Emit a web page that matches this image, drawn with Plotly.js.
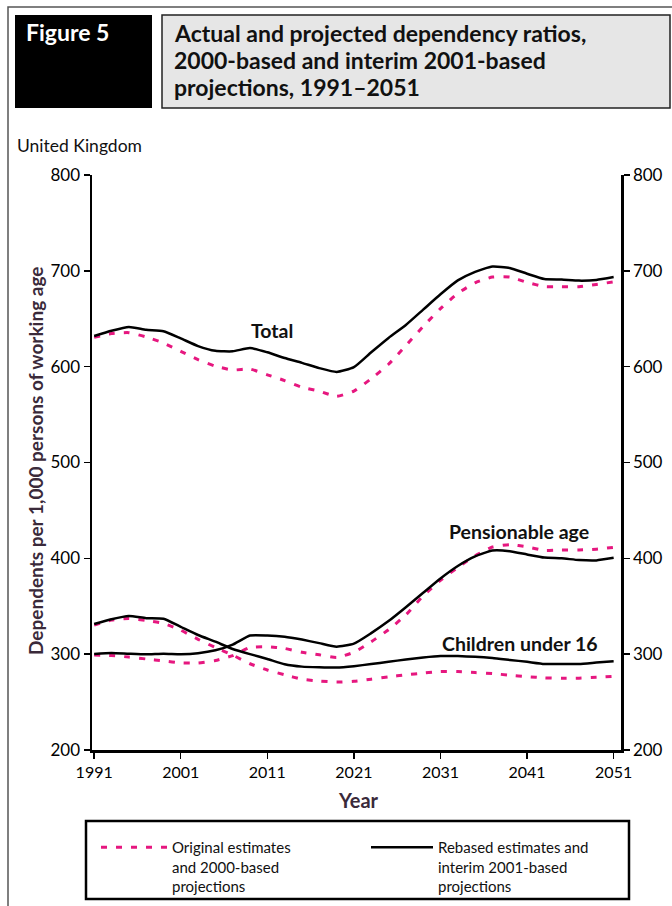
<!DOCTYPE html>
<html>
<head>
<meta charset="utf-8">
<script src="https://cdn.plot.ly/plotly-3.0.1.min.js"></script>
<style>
  html, body { margin: 0; padding: 0; background: #fff; }
  #chart { width: 672px; height: 906px; }
</style>
</head>
<body>
<div id="chart"></div>
<script>
// ---- Data ----
const years = [1991,1993,1995,1997,1999,2001,2003,2005,2007,2009,2011,2013,2015,2017,2019,2021,2023,2025,2027,2029,2031,2033,2035,2037,2039,2041,2043,2045,2047,2049,2051];

// Rebased estimates and interim 2001-based projections (solid black)
const rebasedTotal = [632,637.5,641.5,638.5,637, 629.5,621.5,616.5,616,619.5, 615,609,604,598.5,594.5, 599.5,615,630,643.5,659.5, 675.5,690,699,704.5,703, 697,691.5,691,689.8,690.5, 693.5];
const rebasedPension = [300.2,301.2,300.4,299.8,300.5, 300,301,304,310,319.5, 319.5,318.2,315.2,311.5,307.8, 311,322,334.5,349,364, 379,392,402,408.2,407.5, 404,400.8,400,398.2,397.8, 400.5];
const rebasedChildren = [331.5,336.4,339.8,337.6,337, 328.5,320,313,305.4,300, 295,289.5,287,286.3,286, 287.5,289.7,292,294.5,296.5, 298,298,297.3,296,294, 292,289.8,289.7,289.8,291.2, 292.5];

// Original estimates and 2000-based projections (dotted magenta)
const originalTotal = [630.6,634.5,635.5,631,624.7, 616,607.3,600.5,596.5,597.5, 591.5,585.5,578.5,574.5,569, 574.5,587.5,602.5,622,642, 660.5,676.5,687.5,693.5,693.5, 688,683.5,683.5,683.5,685.8, 688.5];
const originalPension = [299.1,298.5,297,295,293, 291,290.8,293.3,298.5,307, 307.8,306,302,299.3,296.5, 302,313,325.5,341,360.8, 377,390.5,402.6,411.8,414.3, 412,408.2,408.7,408.7,409.5, 411.5];
const originalChildren = [330.4,335.6,337.3,335.2,332, 325,315.5,307,299,290, 283.5,278.5,273.8,272,270.9, 271.7,273.9,276.3,278.5,280.3, 282,281.8,280.8,279.8,278, 276.5,275.3,274.8,275,275.8, 276.8];

const tickYears = [1991,2001,2011,2021,2031,2041,2051];
const tickYearLabels = ['1991','2001','2011','2021','2031','2041','2051'];
const yTicks = [200,300,400,500,600,700,800];

const seriesNames = {
  original: 'Original estimates<br>and 2000-based<br>projections',
  rebased: 'Rebased estimates and<br>interim 2001-based<br>projections'
};
const curveLabels = ['Total', 'Pensionable age', 'Children under 16'];

// ---- Styles ----
const FONT = 'Lato, "Open Sans", "DejaVu Sans", sans-serif';
const MAGENTA = '#e6177f';
const dotLine = { color: MAGENTA, width: 3, dash: '6px,9px', shape: 'spline', smoothing: 0.5 };
const solidLine = { color: '#000', width: 2.5, shape: 'spline', smoothing: 0.5 };

function tr(y, line, name, show, legendId) {
  return { x: years, y: y, type: 'scatter', mode: 'lines', line: line, name: name,
           legendgroup: name, showlegend: show, legend: legendId, hoverinfo: 'skip' };
}

const data = [
  tr(originalTotal, dotLine, seriesNames.original, true, 'legend'),
  tr(originalPension, dotLine, seriesNames.original, false, 'legend'),
  tr(originalChildren, dotLine, seriesNames.original, false, 'legend'),
  tr(rebasedTotal, solidLine, seriesNames.rebased, true, 'legend2'),
  tr(rebasedPension, solidLine, seriesNames.rebased, false, 'legend2'),
  tr(rebasedChildren, solidLine, seriesNames.rebased, false, 'legend2')
];
// invisible helper so the right-hand axis is drawn
data.push({ x: [years[0]], y: [yTicks[0]], yaxis: 'y2', type: 'scatter', mode: 'markers',
            marker: { opacity: 0 }, showlegend: false, hoverinfo: 'skip' });

// pixel -> paper helpers (plot area: x 92..621, y 175..750)
const L = 92, R = 51, T = 175, B = 156, W = 672, H = 906;
const PW = W - L - R, PH = H - T - B;
const px = v => (v - L) / PW;
const py = v => (H - B - v) / PH;

const TITLE_COL = '#3a2a3a';
const XTICKFONT = { size: 16, family: FONT, color: '#000' };
const YTICKFONT = { size: 17, family: FONT, color: '#000' };

function legendBox(xpx, iw) {
  return {
    orientation: 'v', xref: 'container', yref: 'container',
    x: xpx / W, y: (H - 831) / H, xanchor: 'left', yanchor: 'top',
    bordercolor: '#000', borderwidth: 0, bgcolor: 'rgba(0,0,0,0)',
    font: { size: 15, family: FONT, color: '#111' },
    itemwidth: iw, valign: 'top'
  };
}

const layout = {
  width: W, height: H,
  margin: { l: L, r: R, t: T, b: B, pad: 0, autoexpand: false },
  paper_bgcolor: '#fff', plot_bgcolor: '#fff',
  font: { family: FONT, color: '#000', size: 15 },
  showlegend: true,
  xaxis: {
    range: [1990.75, 2051.85], fixedrange: true,
    tickmode: 'array', tickvals: tickYears, ticktext: tickYearLabels,
    ticks: 'outside', ticklen: 6, tickwidth: 1.5, tickcolor: '#000',
    showline: true, linecolor: '#000', linewidth: 2.5,
    showgrid: false, zeroline: false, tickfont: XTICKFONT
  },
  yaxis: {
    range: [200, 800], fixedrange: true,
    tickmode: 'array', tickvals: yTicks,
    ticks: 'outside', ticklen: 6, tickwidth: 1.5, tickcolor: '#000',
    showline: true, linecolor: '#000', linewidth: 2.5,
    showgrid: false, zeroline: false, tickfont: YTICKFONT
  },
  yaxis2: {
    range: [200, 800], fixedrange: true, overlaying: 'y', side: 'right',
    tickmode: 'array', tickvals: yTicks,
    ticks: 'outside', ticklen: 6, tickwidth: 1.5, tickcolor: '#000',
    showline: true, linecolor: '#000', linewidth: 2.5,
    showgrid: false, zeroline: false, tickfont: YTICKFONT
  },
  legend: legendBox(96, 66),
  legend2: legendBox(366, 62),
  shapes: [
    // outer frame
    { type: 'rect', xref: 'paper', yref: 'paper', x0: px(8), x1: px(720), y0: py(960), y1: py(7),
      line: { color: '#555', width: 1.5 }, fillcolor: 'rgba(0,0,0,0)', layer: 'below' },
    // black "Figure 5" box
    { type: 'rect', xref: 'paper', yref: 'paper', x0: px(15), x1: px(152), y0: py(108), y1: py(15),
      line: { color: '#000', width: 0 }, fillcolor: '#000' },
    // grey title box
    { type: 'rect', xref: 'paper', yref: 'paper', x0: px(162), x1: px(670), y0: py(108), y1: py(15),
      line: { color: '#222', width: 1.5 }, fillcolor: '#e6e6e6' },
    // legend frame
    { type: 'rect', xref: 'paper', yref: 'paper', x0: px(86), x1: px(629), y0: py(899), y1: py(821),
      line: { color: '#000', width: 2.5 }, fillcolor: 'rgba(0,0,0,0)' }
  ],
  annotations: [
    { text: '<b>Figure 5</b>', xref: 'paper', yref: 'paper', x: px(24), y: py(32), xanchor: 'left', yanchor: 'middle',
      showarrow: false, font: { size: 23, family: FONT, color: '#fff' } },
    { text: '<b>Actual and projected dependency ratios,</b>', xref: 'paper', yref: 'paper', x: px(172), y: py(33), xanchor: 'left', yanchor: 'middle',
      showarrow: false, font: { size: 23, family: FONT, color: '#111' } },
    { text: '<b>2000-based and interim 2001-based</b>', xref: 'paper', yref: 'paper', x: px(172), y: py(60), xanchor: 'left', yanchor: 'middle',
      showarrow: false, font: { size: 23, family: FONT, color: '#111' } },
    { text: '<b>projections, 1991–2051</b>', xref: 'paper', yref: 'paper', x: px(172), y: py(87), xanchor: 'left', yanchor: 'middle',
      showarrow: false, font: { size: 23, family: FONT, color: '#111' } },
    { text: 'United Kingdom', xref: 'paper', yref: 'paper', x: px(15), y: py(145), xanchor: 'left', yanchor: 'middle',
      showarrow: false, font: { size: 17.5, family: FONT, color: '#111' } },
    { text: '<b>Dependents per 1,000 persons of working age</b>', xref: 'paper', yref: 'paper', x: px(35), y: py(461),
      xanchor: 'center', yanchor: 'middle', textangle: -90,
      showarrow: false, font: { size: 19, family: FONT, color: TITLE_COL } },
    { text: '<b>Year</b>', xref: 'paper', yref: 'paper', x: px(358), y: py(800), xanchor: 'center', yanchor: 'middle',
      showarrow: false, font: { size: 20, family: FONT, color: TITLE_COL } },
    { text: '<b>' + curveLabels[0] + '</b>', xref: 'x', yref: 'y', x: 2011.5, y: 637.5, xanchor: 'center', yanchor: 'middle',
      showarrow: false, font: { size: 19.5, family: FONT, color: '#111' } },
    { text: '<b>' + curveLabels[1] + '</b>', xref: 'x', yref: 'y', x: 2040.1, y: 427.5, xanchor: 'center', yanchor: 'middle',
      showarrow: false, font: { size: 19.5, family: FONT, color: '#111' } },
    { text: '<b>' + curveLabels[2] + '</b>', xref: 'x', yref: 'y', x: 2040.2, y: 311.3, xanchor: 'center', yanchor: 'middle',
      showarrow: false, font: { size: 19.5, family: FONT, color: '#111' } }
  ]
};

Plotly.newPlot('chart', data, layout, { staticPlot: true, displayModeBar: false });
</script>
</body>
</html>
